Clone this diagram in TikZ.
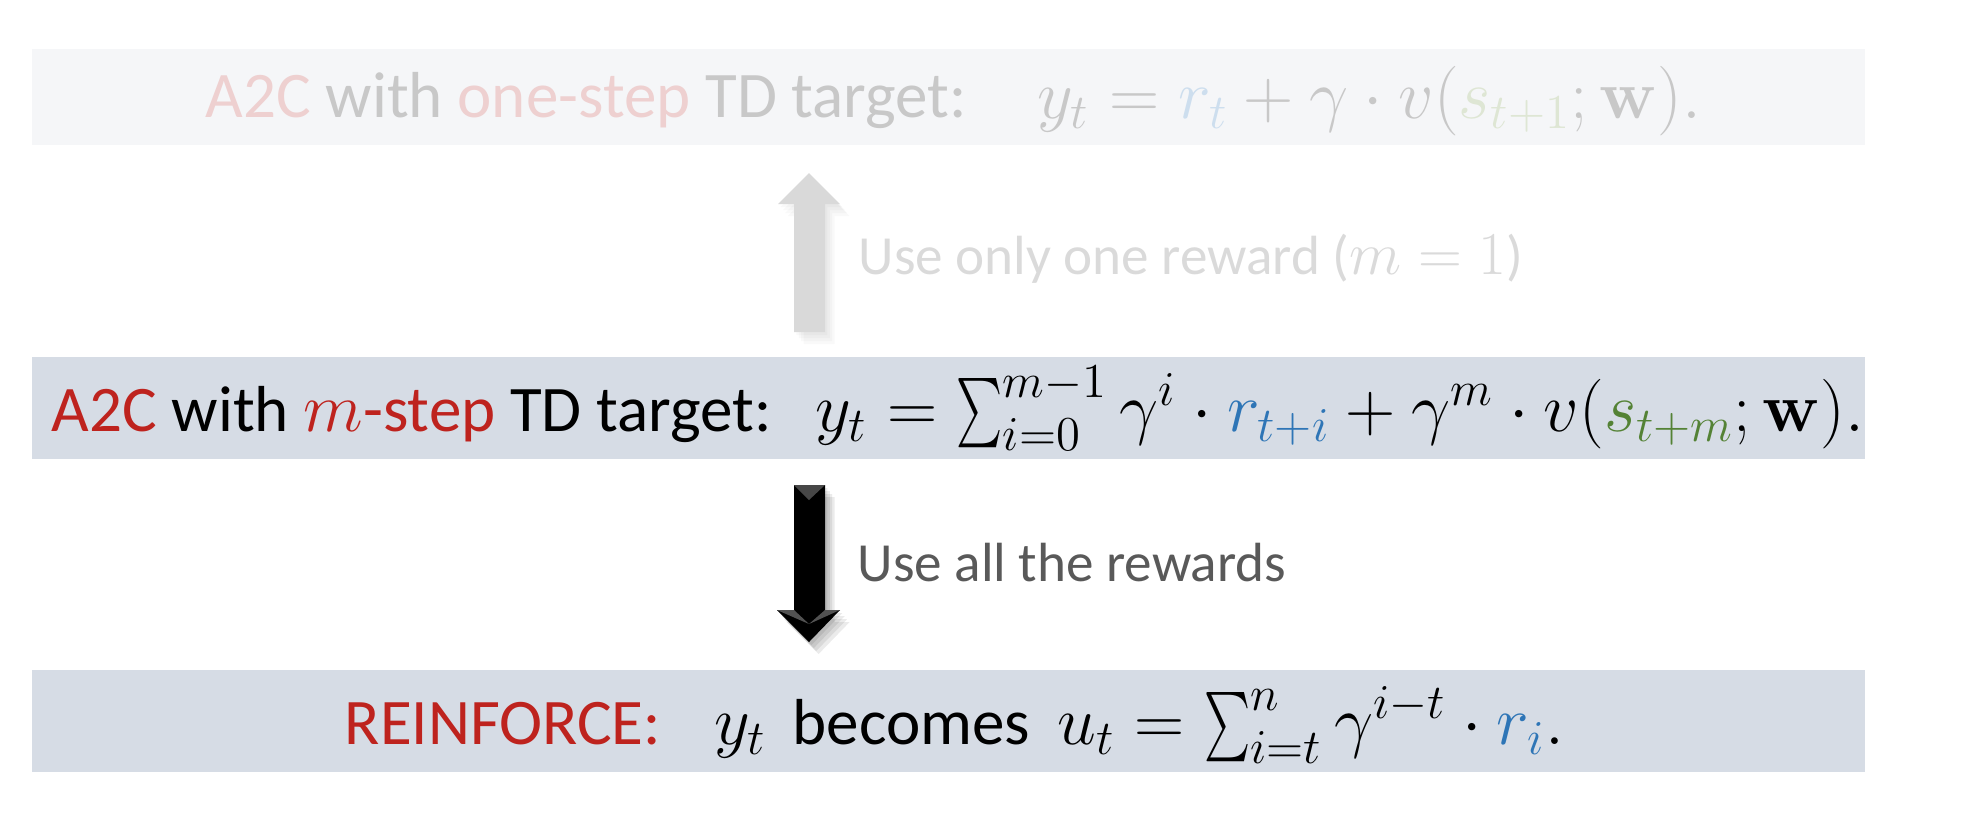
\RequirePackage{fix-cm}
\documentclass[tikz,border=0pt]{standalone}
\usepackage{amsmath}
\usepackage{graphicx}
\usepackage[no-math]{fontspec}
\setmainfont{Carlito}
\usetikzlibrary{shadows}

\definecolor{barfaint}{RGB}{245,246,248}
\definecolor{barblue}{RGB}{214,220,229}
\definecolor{redtxt}{RGB}{190,35,30}
\definecolor{bluetxt}{RGB}{46,117,182}
\definecolor{greentxt}{RGB}{84,130,53}
\definecolor{fadegray}{RGB}{200,200,200}
\definecolor{fadepink}{RGB}{238,208,208}
\definecolor{fadeblue}{RGB}{205,222,238}
\definecolor{fadegreen}{RGB}{222,230,212}
\definecolor{labelfaint}{RGB}{218,218,218}
\definecolor{labeldark}{RGB}{89,89,89}
\definecolor{arrowfaint}{RGB}{217,217,217}

% narrow, tall summation sign
\newcommand{\nsum}{\mathop{\vcenter{\hbox{\scalebox{0.6}[0.95]{$\sum$}}}}\nolimits}

\begin{document}
\begin{tikzpicture}[x=0.1mm,y=-0.1mm,
  txt/.style={inner sep=0pt, anchor=base west, font=\fontsize{18.5}{22}\selectfont},
  mth/.style={inner sep=0pt, anchor=base west, font=\fontsize{19.8}{23}\selectfont},
  captxt/.style={inner sep=0pt, anchor=base west, font=\fontsize{15.7}{19}\selectfont},
  bar/.style={inner sep=0pt, minimum width=183.3mm}]
\useasboundingbox (0,0) rectangle (1972,838);

% background bars
\node[bar, fill=barfaint, minimum height=9.6mm]  (topbar) at (948.5,97) {};
\node[bar, fill=barblue,  minimum height=10.2mm] (midbar) at (948.5,408) {};
\node[bar, fill=barblue,  minimum height=10.2mm] (botbar) at (948.5,721) {};

% top row (faded)
\node[txt, text=fadegray] (toplabel) at (205,117)
  {\textcolor{fadepink}{A2C} with \textcolor{fadepink}{one-step} TD target:};
\node[mth, text=fadegray] (topformula) at (1037,118)
  {$y_t = \textcolor{fadeblue}{r_t} + \gamma\cdot v(\textcolor{fadegreen}{s_{t+1}};\mathbf{w}).$};

% middle row
\node[txt] (midlabel) at (51,431)
  {\textcolor{redtxt}{A2C} with \textcolor{redtxt}{{\fontsize{19.8}{23}\selectfont$m$}-step} TD target:};
\node[mth] (midformula) at (815,431)
  {$y_t = \nsum_{i=0}^{m-1}\gamma^{i}\cdot \textcolor{bluetxt}{r_{t+i}} + \gamma^{m}\cdot v(\textcolor{greentxt}{s_{t+m}};\mathbf{w}).$};

% bottom row
\node[txt, text=redtxt] (botlabel) at (344,744) {REINFORCE:};
\node[mth] (boty) at (714,744) {$y_t$};
\node[txt] (botword) at (792,744) {becomes};
\node[mth] (botformula) at (1057,744)
  {$u_t = \nsum_{i=t}^{n}\gamma^{i-t}\cdot \textcolor{bluetxt}{r_i}.$};

% up arrow (faint) with soft shadow
\foreach \d in {3,6,9,12}
  \fill[black, opacity=0.025, shift={(\d*0.8,\d)}]
    (778,204) -- (809,173) -- (840,204) -- (825,204) -- (825,332) -- (794,332) -- (794,204) -- cycle;
\fill[arrowfaint] (778,204) -- (809,173) -- (840,204) -- (825,204) -- (825,332) -- (794,332) -- (794,204) -- cycle;

% down arrow (solid) with soft shadow
\foreach \d in {3,6,9,12}
  \fill[black, opacity=0.08, shift={(\d*0.8,\d)}]
    (794,485) -- (825,485) -- (825,610) -- (840,610) -- (809,642) -- (777,610) -- (794,610) -- cycle;
\fill[black] (794,485) -- (825,485) -- (825,610) -- (840,610) -- (809,642) -- (777,610) -- (794,610) -- cycle;
\fill[black!72] (794,485) -- (825,485) -- (809,500) -- cycle;
\fill[black!68] (777,610) -- (794,610) -- (809,624) -- cycle;
\fill[black!68] (840,610) -- (825,610) -- (809,624) -- cycle;

% arrow captions
\node[captxt, text=labelfaint] (uplabel) at (858,274)
  {Use only one reward ({\fontsize{17.3}{21}\selectfont$m = 1$})};
\node[captxt, text=labeldark] (downlabel) at (857,581) {Use all the rewards};
\end{tikzpicture}
\end{document}
